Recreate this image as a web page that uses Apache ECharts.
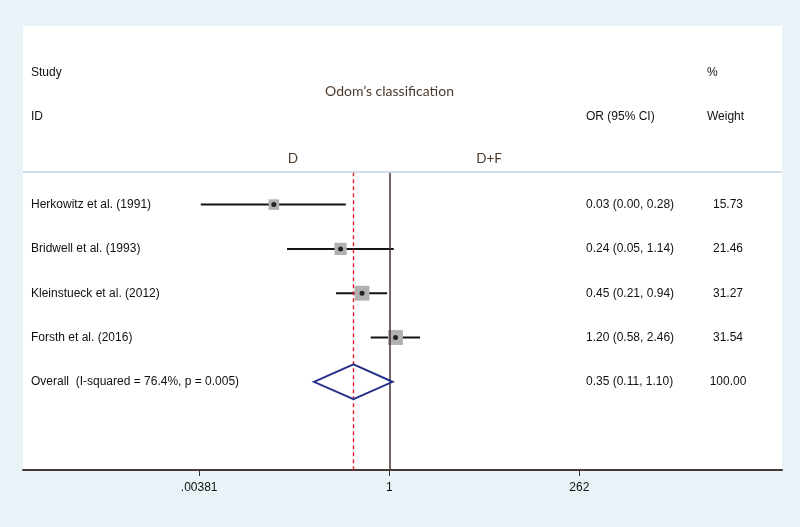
<!DOCTYPE html>
<html>
<head>
<meta charset="utf-8">
<style>
  html, body { margin: 0; padding: 0; background: #e9f2f7; }
  #chart { width: 800px; height: 527px; }
</style>
<script src="https://cdn.jsdelivr.net/npm/echarts@6.0.0/dist/echarts.min.js"></script>
</head>
<body>
<div id="chart"></div>
<script>
// ---- data ----
const studies = ['Herkowitz et al. (1991)', 'Bridwell et al. (1993)', 'Kleinstueck et al. (2012)', 'Forsth et al. (2016)'];
const orValues = [0.034, 0.24, 0.45, 1.20];
const ciLower = [0.004, 0.05, 0.21, 0.58];
const ciUpper = [0.28, 1.14, 0.94, 2.46];
const weights = [15.73, 21.46, 31.27, 31.54];
const ciTexts = ['0.03 (0.00, 0.28)', '0.24 (0.05, 1.14)', '0.45 (0.21, 0.94)', '1.20 (0.58, 2.46)'];
const weightTexts = ['15.73', '21.46', '31.27', '31.54'];
const overallLabel = 'Overall  (I-squared = 76.4%, p = 0.005)';
const overallOR = 0.35;
const overallLower = 0.11;
const overallUpper = 1.10;
const overallCIText = '0.35 (0.11, 1.10)';
const overallWeightText = '100.00';
const tickValues = [0.00381, 1, 262];
const tickLabels = ['.00381', '1', '262'];

// ---- derived ----
const L = v => Math.log10(v);
const nStudies = studies.length;
const overallRow = nStudies;
const rowLabels = studies.concat([overallLabel]);
const rowCITexts = ciTexts.concat([overallCIText]);
const rowWeightTexts = weightTexts.concat([overallWeightText]);
const tickLog = tickValues.map(L);

const FONT = '"Liberation Sans", Arial, sans-serif';
const HFONT = 'Lato, "Open Sans", sans-serif';
const TXT = '#111111';

const chart = echarts.init(document.getElementById('chart'), null, { renderer: 'canvas' });

const option = {
  backgroundColor: '#e9f2f7',
  animation: false,
  grid: {
    left: 23, right: 18, top: 26, bottom: 57,
    show: true, backgroundColor: '#ffffff', borderWidth: 0
  },
  xAxis: {
    type: 'value',
    min: -4.66, max: 4.996,
    splitLine: { show: false },
    axisLine: { show: true, onZero: false, lineStyle: { color: '#4a3a36', width: 2 } },
    axisTick: { show: true, customValues: tickLog, length: 6, lineStyle: { color: '#3a3030', width: 1 } },
    axisLabel: {
      show: true, customValues: tickLog, margin: 12,
      color: '#111', fontSize: 12, fontFamily: FONT,
      formatter: function (v) {
        let best = 0, bd = Infinity;
        tickLog.forEach((t, i) => { const d = Math.abs(t - v); if (d < bd) { bd = d; best = i; } });
        return tickLabels[best];
      }
    }
  },
  yAxis: {
    type: 'value', inverse: true, min: -4.03, max: 5.99, show: false,
    splitLine: { show: false }
  },
  graphic: [
    { type: 'line', shape: { x1: 23, y1: 172, x2: 782, y2: 172 }, style: { stroke: '#c3d2dc', lineWidth: 1.5 }, z: 50 },
    { type: 'text', x: 31, y: 73, style: { text: 'Study', font: '12px ' + FONT, fill: TXT, verticalAlign: 'middle' }, z: 50 },
    { type: 'text', x: 31, y: 117, style: { text: 'ID', font: '12px ' + FONT, fill: TXT, verticalAlign: 'middle' }, z: 50 },
    { type: 'text', x: 586, y: 117, style: { text: 'OR (95% CI)', font: '12px ' + FONT, fill: TXT, verticalAlign: 'middle' }, z: 50 },
    { type: 'text', x: 707, y: 73, style: { text: '%', font: '12px ' + FONT, fill: TXT, verticalAlign: 'middle' }, z: 50 },
    { type: 'text', x: 707, y: 117, style: { text: 'Weight', font: '12px ' + FONT, fill: TXT, verticalAlign: 'middle' }, z: 50 },
    { type: 'text', x: 389.5, y: 91, style: { text: 'Odom\u2019s classification', font: '14px ' + HFONT, fill: '#4b3a2c', align: 'center', verticalAlign: 'middle' }, z: 50 },
    { type: 'text', x: 293, y: 159, style: { text: 'D', font: '13.5px ' + HFONT, fill: '#4b3a2c', align: 'center', verticalAlign: 'middle' }, z: 50 },
    { type: 'text', x: 489, y: 159, style: { text: 'D+F', font: '13.5px ' + HFONT, fill: '#4b3a2c', align: 'center', verticalAlign: 'middle' }, z: 50 }
  ],
  series: [
    // null line (OR = 1)
    {
      type: 'line', data: [], silent: true,
      markLine: {
        symbol: 'none', silent: true, label: { show: false },
        lineStyle: { color: '#4a3434', width: 1.5, type: 'solid' },
        data: [[{ coord: [0, -0.73] }, { coord: [0, 5.99] }]]
      }
    },
    // overall estimate line
    {
      type: 'line', data: [], silent: true,
      markLine: {
        symbol: 'none', silent: true, label: { show: false },
        lineStyle: { color: '#e3202f', width: 1.4, type: [4, 3], opacity: 1 },
        data: [[{ coord: [L(overallOR), -0.73] }, { coord: [L(overallOR), 5.99] }]]
      }
    },
    // CI lines
    {
      type: 'custom', z: 3,
      data: studies.map((s, i) => [L(ciLower[i]), L(ciUpper[i]), i]),
      renderItem: function (params, api) {
        const a = api.coord([api.value(0), api.value(2)]);
        const b = api.coord([api.value(1), api.value(2)]);
        return { type: 'line', shape: { x1: a[0], y1: a[1], x2: b[0], y2: b[1] }, style: { stroke: '#141414', lineWidth: 2 } };
      }
    },
    // weight squares
    {
      type: 'scatter', z: 4, symbol: 'rect',
      data: studies.map((s, i) => ({ value: [L(orValues[i]), i], symbolSize: 2.65 * Math.sqrt(weights[i]) })),
      itemStyle: { color: '#b1b1b1', opacity: 1 }
    },
    // point estimates
    {
      type: 'scatter', z: 5, symbol: 'circle', symbolSize: 5,
      data: studies.map((s, i) => [L(orValues[i]), i]),
      itemStyle: { color: '#000000' }
    },
    // overall diamond
    {
      type: 'custom', z: 6,
      data: [[L(overallLower), L(overallOR), L(overallUpper), overallRow]],
      renderItem: function (params, api) {
        const row = api.value(3);
        const lo = api.coord([api.value(0), row]);
        const mid = api.coord([api.value(1), row]);
        const hi = api.coord([api.value(2), row]);
        const h = 17.4;
        return {
          type: 'polygon',
          shape: { points: [[lo[0], lo[1]], [mid[0], mid[1] - h], [hi[0], hi[1]], [mid[0], mid[1] + h]] },
          style: { fill: 'rgba(255,255,255,0)', stroke: '#26328a', lineWidth: 2 }
        };
      }
    },
    // row texts
    {
      type: 'custom', z: 7,
      data: rowLabels.map((s, i) => [0, i]),
      renderItem: function (params, api) {
        const i = params.dataIndex;
        const y = api.coord([0, api.value(1)])[1];
        return {
          type: 'group',
          children: [
            { type: 'text', x: 31, y: y, style: { text: rowLabels[i], font: '12px ' + FONT, fill: TXT, verticalAlign: 'middle', align: 'left' } },
            { type: 'text', x: 586, y: y, style: { text: rowCITexts[i], font: '12px ' + FONT, fill: TXT, verticalAlign: 'middle', align: 'left' } },
            { type: 'text', x: 728, y: y, style: { text: rowWeightTexts[i], font: '12px ' + FONT, fill: TXT, verticalAlign: 'middle', align: 'center' } }
          ]
        };
      }
    }
  ]
};

chart.setOption(option);
</script>
</body>
</html>
